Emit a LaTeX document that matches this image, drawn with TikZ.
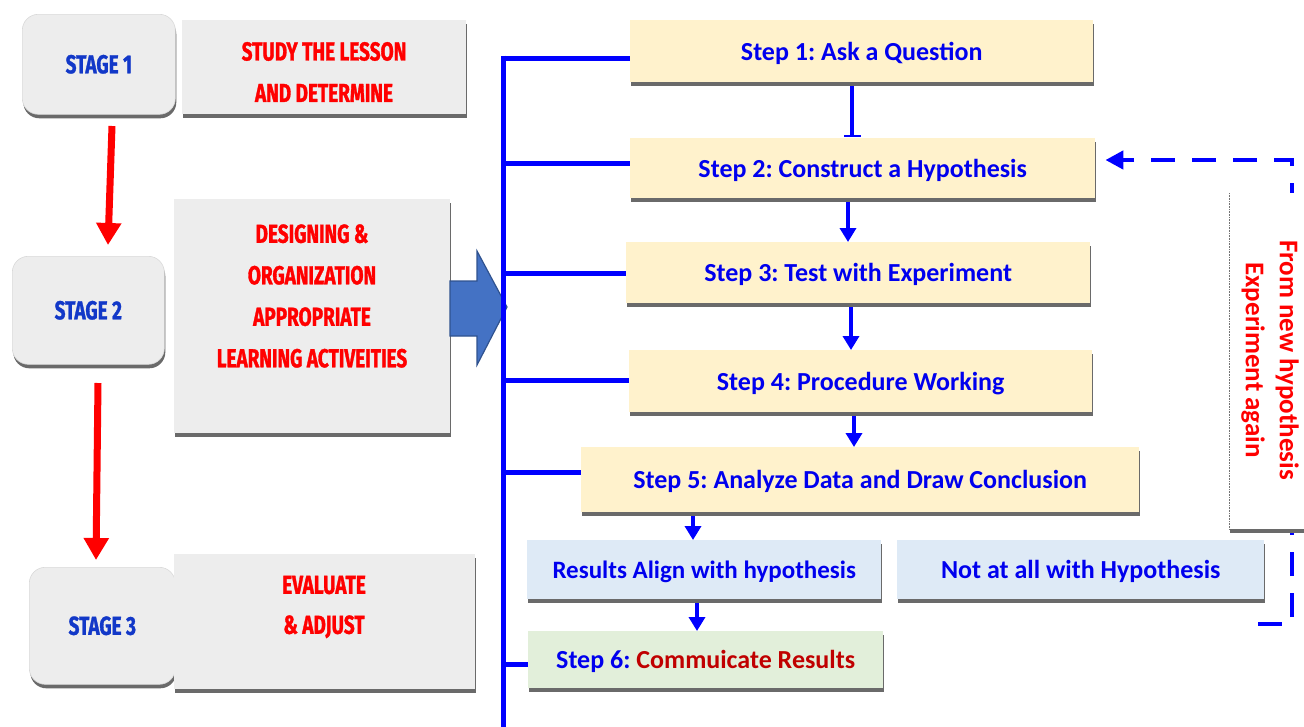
\documentclass[tikz,border=0pt]{standalone}
\usepackage{fontspec}
\setmainfont{Carlito}
\newfontfamily\condfont[FakeStretch=0.73,FakeBold=1.2]{Fira Sans}
\usetikzlibrary{arrows.meta,shadows}
\definecolor{redtxt}{HTML}{FF0000}
\definecolor{stageblue}{HTML}{1238C8}
\definecolor{stepblue}{HTML}{0000EE}
\definecolor{lineblue}{HTML}{0000FF}
\definecolor{darkred}{HTML}{C00000}
\definecolor{stepfill}{HTML}{FFF2CC}
\definecolor{resfill}{HTML}{DEEAF6}
\definecolor{greenfill}{HTML}{E2EFDA}
\definecolor{grayfill}{HTML}{EDEDED}
\definecolor{shadowgray}{HTML}{6A6A6A}
\definecolor{arrowfill}{HTML}{4472C4}
\definecolor{arrowline}{HTML}{2F528F}
\tikzset{
  shd/.style={drop shadow={shadow xshift=1pt,shadow yshift=-4pt,fill=shadowgray,opacity=1}},
  box/.style={rectangle,inner sep=0pt,anchor=north west,draw=none},
  stagebox/.style={box,shd,rounded corners=16pt,fill=grayfill,draw=black!15,line width=0.6pt,
    text=stageblue,font=\condfont\bfseries\fontsize{26pt}{30pt}\selectfont},
  graybox/.style={box,shd,fill=grayfill},
  condtxt/.style={text=redtxt,align=center,inner sep=0pt,font=\condfont\bfseries\fontsize{26pt}{41.5pt}\selectfont},
  stepfont/.style={font=\frenchspacing\bfseries\fontsize{26pt}{30pt}\selectfont,text depth=0pt},
  stepbox/.style={box,shd,fill=stepfill,text=stepblue,stepfont},
  resbox/.style={box,shd,fill=resfill,text=stepblue,stepfont},
  greenbox/.style={box,shd,fill=greenfill,text=stepblue,stepfont},
  redarrow/.style={draw=redtxt,line width=7pt,-{Triangle[width=24pt,length=22pt]}},
  stepar/.style={draw=lineblue,line width=4.5pt,-{Triangle[width=16pt,length=14pt]}},
  barar/.style={draw=lineblue,line width=4.5pt,-{Bar[width=17pt,line width=2.5pt]}},
  trunk/.style={draw=lineblue,line width=5pt},
  fbline/.style={draw=lineblue,line width=4.5pt,dash pattern=on 24pt off 17pt,-{Triangle[width=18pt,length=18pt]}},
}
\begin{document}
\begin{tikzpicture}[x=1pt,y=-1pt]
\useasboundingbox (0,0) rectangle (1304,726);
\clip (0,0) rectangle (1304,726);

% ---------- left column ----------
\node[stagebox,minimum width=153pt,minimum height=100pt] (st1) at (22,14) {STAGE 1};
\node[graybox,minimum width=284pt,minimum height=94pt] (study) at (182,20) {};
\node[condtxt] (studyt) at (324,72) {STUDY THE LESSON\\AND DETERMINE};

\node[stagebox,minimum width=152pt,minimum height=108pt] (st2) at (12,256) {STAGE 2};
\node[graybox,minimum width=276pt,minimum height=234pt] (design) at (174,199) {};
\node[condtxt] (designt) at (312,296) {DESIGNING \&\\ORGANIZATION\\APPROPRIATE\\LEARNING ACTIVEITIES};

\node[stagebox,minimum width=146pt,minimum height=117pt] (st3) at (29,567) {STAGE 3};
\node[graybox,minimum width=301pt,minimum height=135pt] (eval) at (174,554) {};
\node[condtxt,font=\condfont\bfseries\fontsize{26pt}{40pt}\selectfont] (evalt) at (324,607) {EVALUATE\\\& ADJUST};

\coordinate (r1s) at (112,126);
\coordinate (r1e) at (108,245);
\coordinate (r2s) at (98,383);
\coordinate (r2e) at (96,560);
\draw[redarrow] (r1s) -- (r1e);
\draw[redarrow] (r2s) -- (r2e);

% ---------- block arrow ----------
\draw[fill=arrowfill,draw=arrowline,line width=1.2pt,line join=miter]
  (450,281) -- (477,281) -- (477,251) -- (507,307) -- (477,365) -- (477,336) -- (450,336) -- cycle;

% ---------- trunk ----------
\coordinate (ttop) at (503,55.5);
\coordinate (tbot) at (503,730);
\draw[trunk] (ttop) -- (tbot);

% ---------- feedback dashed line (behind text box) ----------
\coordinate (fb0) at (1258,624);
\coordinate (fb1) at (1292,624);
\coordinate (fb2) at (1292,160);

% ---------- step boxes ----------
\node[stepbox,minimum width=463pt,minimum height=62pt] (s1) at (630,20) {Step 1: Ask a Question};
\node[stepbox,minimum width=465pt,minimum height=60pt] (s2) at (630,138) {Step 2: Construct a Hypothesis};
\node[stepbox,minimum width=464pt,minimum height=61pt] (s3) at (626,242) {Step 3: Test with Experiment};
\node[stepbox,minimum width=463pt,minimum height=62pt] (s4) at (629,350) {Step 4: Procedure Working};
\node[stepbox,minimum width=558pt,minimum height=65pt] (s5) at (581,447) {Step 5: Analyze Data and Draw Conclusion};
\node[resbox,minimum width=354pt,minimum height=59pt,font=\frenchspacing\bfseries\fontsize{25pt}{30pt}\selectfont] (ra) at (527,540) {Results Align with hypothesis};
\node[resbox,minimum width=367pt,minimum height=59pt] (rn) at (897,540) {Not at all with Hypothesis};
\node[greenbox,minimum width=355pt,minimum height=57pt] (s6) at (528,631) {Step 6: \textcolor{darkred}{Commuicate Results}};

\draw[fbline] (fb0) -- (fb1) -- (fb2) -- ([xshift=10pt]s2.east |- fb2);

% branches
\coordinate (b1) at (503,58);
\coordinate (b2) at (503,163);
\coordinate (b3) at (503,273);
\coordinate (b4) at (503,380);
\coordinate (b5) at (503,472);
\coordinate (b6) at (503,664);
\draw[trunk] (b1) -- (b1 -| s1.west);
\draw[trunk] (b2) -- (b2 -| s2.west);
\draw[trunk] (b3) -- (b3 -| s3.west);
\draw[trunk] (b4) -- (b4 -| s4.west);
\draw[trunk] (b5) -- (b5 -| s5.west);
\draw[trunk] (b6) -- (b6 -| s6.west);

% step connectors
\coordinate (x12) at (852,0);
\coordinate (x23) at (848,0);
\coordinate (x34) at (851,0);
\coordinate (x45) at (854,0);
\coordinate (x5a) at (693,0);
\coordinate (xa6) at (697,0);
\draw[barar] ([yshift=-4pt]s1.south -| x12) -- ([yshift=1pt]s2.north -| x12);
\draw[stepar] ([yshift=-4pt]s2.south -| x23) -- (s3.north -| x23);
\draw[stepar] ([yshift=-4pt]s3.south -| x34) -- (s4.north -| x34);
\draw[stepar] ([yshift=-4pt]s4.south -| x45) -- (s5.north -| x45);
\draw[stepar] ([yshift=-4pt]s5.south -| x5a) -- (ra.north -| x5a);
\draw[stepar] ([yshift=-4pt]ra.south -| xa6) -- (s6.north -| xa6);

% ---------- feedback text box ----------
\node[box,shd,fill=white,minimum width=90pt,minimum height=336pt] (fbbox) at (1229,193) {};
\draw[black!55,line width=0.6pt,densely dotted] (fbbox.north west) -- (fbbox.south west);
\node[rotate=-90,text=redtxt,align=center,inner sep=0pt,font=\bfseries\fontsize{27pt}{34pt}\selectfont] (fbtxt) at (1270,360) {From new hypothesis\\Experiment again};
\end{tikzpicture}
\end{document}
